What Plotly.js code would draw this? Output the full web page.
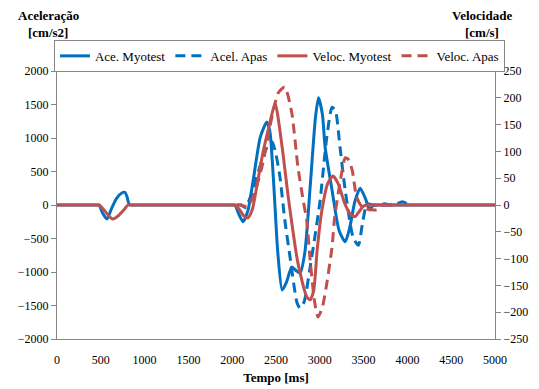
<!DOCTYPE html>
<html>
<head>
<meta charset="utf-8">
<script src="https://cdn.plot.ly/plotly-3.0.1.min.js"></script>
<style>html,body{margin:0;padding:0;background:#fff;}#chart{width:539px;height:389px;}</style>
</head>
<body>
<div id="chart"></div>
<script>
// Ace. Myotest (cm/s2)
const tAccMyo = [0, 300, 450, 480, 520, 570, 620, 680, 740, 775, 800, 815, 830, 860, 950, 1500, 1950, 2000, 2030, 2080, 2125, 2180, 2240, 2320, 2395, 2430, 2470, 2520, 2570, 2620, 2680, 2730, 2775, 2830, 2890, 2950, 2985, 3030, 3060, 3140, 3220, 3290, 3340, 3400, 3460, 3520, 3570, 3610, 3650, 3750, 4500, 5000];
const accMyo  = [0, 0, 0, 0, -120, -210, -60, 100, 180, 190, 120, 40, 0, 0, 0, 0, 0, 0, 0, -150, -250, -80, 370, 1010, 1240, 1100, 400, -700, -1270, -1150, -925, -980, -1015, -700, 270, 1300, 1600, 1350, 870, 220, -380, -550, -350, 50, 250, 100, -75, 0, 0, 0, 0, 0];
// Acel. Apas (cm/s2)
const tAccApas = [2050, 2100, 2150, 2225, 2280, 2340, 2410, 2455, 2500, 2545, 2600, 2660, 2740, 2775, 2820, 2890, 3000, 3080, 3140, 3180, 3230, 3290, 3380, 3440, 3490, 3540, 3600, 3680, 3740, 3800, 3870, 3940, 3980, 4000];
const accApas  = [0, 0, -40, 180, 420, 670, 900, 940, 750, 420, -220, -775, -1460, -1540, -1450, -925, 30, 1015, 1460, 1400, 870, 220, -480, -600, -250, 20, 0, -10, 20, 0, 10, 50, 30, 0];
// Veloc. Myotest (cm/s)
const tVelMyo = [0, 300, 450, 480, 540, 600, 640, 700, 760, 810, 840, 900, 1500, 1950, 2000, 2030, 2080, 2130, 2180, 2230, 2280, 2350, 2430, 2490, 2570, 2640, 2750, 2850, 2890, 2930, 2970, 3025, 3090, 3150, 3210, 3280, 3340, 3400, 3450, 3500, 3540, 3580, 3700, 4500, 5000];
const velMyo  = [0, 0, 0, 0, -10, -22, -26, -20, -10, 0, 0, 0, 0, 0, 0, 0, -8, -20, -24, -8, 34, 97, 153, 190, 108, 15, -108, -171, -177, -160, -84, -9, 40, 54, 40, 5, -15, -22, -12, -2, 0, 0, 0, 0, 0];
// Veloc. Apas (cm/s)
const tVelApas = [2050, 2100, 2170, 2240, 2350, 2430, 2525, 2600, 2680, 2750, 2810, 2850, 2890, 2940, 2980, 3030, 3080, 3140, 3170, 3230, 3290, 3320, 3370, 3420, 3490, 3650, 3720, 3760, 3800];
const velApas  = [0, 0, -3, 15, 78, 146, 209, 220, 172, 71, 9, -28, -103, -180, -209, -190, -146, -78, -22, 41, 88, 86, 65, 15, -5, -9, 0, 0, 0];

const blue = '#0070C0', red = '#C0504D';
const font = 'Liberation Serif';

const traces = [
  {x: tAccMyo, y: accMyo, name: 'Ace. Myotest', mode: 'lines', line: {color: blue, width: 3, shape: 'spline', smoothing: 0.6}, yaxis: 'y'},
  {x: tAccApas, y: accApas, name: 'Acel. Apas', mode: 'lines', line: {color: blue, width: 3, dash: '10px,6px', shape: 'spline', smoothing: 0.6}, yaxis: 'y'},
  {x: tVelMyo, y: velMyo, name: 'Veloc. Myotest', mode: 'lines', line: {color: red, width: 3, shape: 'spline', smoothing: 0.6}, yaxis: 'y2'},
  {x: tVelApas, y: velApas, name: 'Veloc. Apas', mode: 'lines', line: {color: red, width: 3, dash: '10px,6px', shape: 'spline', smoothing: 0.6}, yaxis: 'y2'}
];

const axLine = '#868686';
const layout = {
  width: 539, height: 389,
  margin: {l: 57, r: 44, t: 71, b: 50},
  paper_bgcolor: '#fff', plot_bgcolor: '#fff',
  font: {family: font, size: 12, color: '#000'},
  showlegend: true,
  legend: {orientation: 'h', x: -0.007, xanchor: 'left', y: 1.116, yanchor: 'top',
           bordercolor: axLine, borderwidth: 1, bgcolor: '#fff',
           font: {family: font, size: 13, color: '#000'}, tracegroupgap: 0},
  xaxis: {range: [0, 5000], dtick: 500, tick0: 0, showgrid: false, zeroline: false,
          showline: true, linecolor: axLine, linewidth: 1,
          ticks: '', ticklabelstandoff: 10, tickfont: {family: font, size: 12},
          title: {text: '<b>Tempo [ms]</b>', font: {family: font, size: 13}, standoff: 6}},
  yaxis: {range: [-2000, 2000], dtick: 500, showgrid: false, zeroline: false,
          showline: true, linecolor: axLine, linewidth: 1,
          ticks: 'outside', ticklen: 5, tickcolor: axLine, tickfont: {family: font, size: 12}},
  yaxis2: {range: [-250, 250], dtick: 50, overlaying: 'y', side: 'right', showgrid: false, zeroline: false,
          showline: true, linecolor: axLine, linewidth: 1,
          ticks: 'outside', ticklen: 5, tickcolor: axLine, tickfont: {family: font, size: 12}},
  annotations: [
    {text: '<b>Aceleração</b>', xref: 'paper', yref: 'paper', x: (48-57)/438, y: (339-15)/268, xanchor: 'center', yanchor: 'middle', showarrow: false, font: {family: font, size: 13}},
    {text: '<b>[cm/s2]</b>', xref: 'paper', yref: 'paper', x: (48-57)/438, y: (339-33)/268, xanchor: 'center', yanchor: 'middle', showarrow: false, font: {family: font, size: 13}},
    {text: '<b>Velocidade</b>', xref: 'paper', yref: 'paper', x: (482-57)/438, y: (339-15)/268, xanchor: 'center', yanchor: 'middle', showarrow: false, font: {family: font, size: 13}},
    {text: '<b>[cm/s]</b>', xref: 'paper', yref: 'paper', x: (482-57)/438, y: (339-33)/268, xanchor: 'center', yanchor: 'middle', showarrow: false, font: {family: font, size: 13}}
  ]
};

Plotly.newPlot('chart', traces, layout, {staticPlot: true, displayModeBar: false});
</script>
</body>
</html>
